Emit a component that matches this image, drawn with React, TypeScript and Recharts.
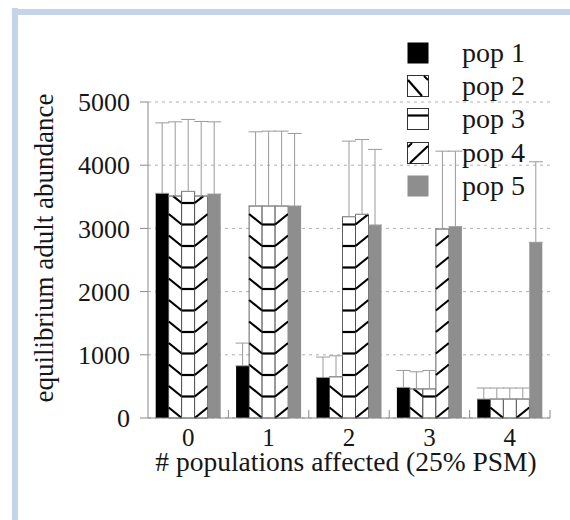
import React from "react";
import { BarChart, Bar, XAxis, YAxis, CartesianGrid, ErrorBar, Legend, Label } from "recharts";

const categories = ["0", "1", "2", "3", "4"];
const seriesNames = ["pop 1", "pop 2", "pop 3", "pop 4", "pop 5"];

const pop1 = [3555, 826, 642, 484, 300];
const pop2 = [3512, 3354, 652, 460, 300];
const pop3 = [3586, 3354, 3185, 460, 300];
const pop4 = [3512, 3354, 3223, 2990, 300];
const pop5 = [3543, 3354, 3054, 3027, 2780];

// upper error (sd) only
const pop1Err = [1115, 359, 322, 268, 174];
const pop2Err = [1174, 1174, 332, 271, 174];
const pop3Err = [1138, 1185, 1196, 292, 174];
const pop4Err = [1180, 1185, 1184, 1232, 174];
const pop5Err = [1143, 1148, 1196, 1195, 1274];

const yTicks = [0, 1000, 2000, 3000, 4000, 5000];

const data = categories.map((c, i) => ({
  cat: c,
  p1: pop1[i],
  p2: pop2[i],
  p3: pop3[i],
  p4: pop4[i],
  p5: pop5[i],
  e1: [0, pop1Err[i]],
  e2: [0, pop2Err[i]],
  e3: [0, pop3Err[i]],
  e4: [0, pop4Err[i]],
  e5: [0, pop5Err[i]],
}));

const FONT = "Liberation Serif, Tinos, Times New Roman, DejaVu Serif, serif";
const TEXT = "#161616";
const AXIS = "#8a8a8a";
const GRAY = "#8e8e8e";

const PLOT_LEFT = 148;
const PLOT_RIGHT = 550;
const HALF_BAND = (PLOT_RIGHT - PLOT_LEFT) / categories.length / 2;

const STEP = 21.5; // hatch spacing
const DROP = 10.5; // diagonal rise

type Kind = "back" | "horiz" | "fwd";

function hatched(kind: Kind) {
  return (props: any) => {
    const { x, y, width, height } = props;
    if (!height || height <= 0) return <g />;
    const top = y;
    const base = y + height;
    const lines: React.ReactNode[] = [];
    for (let k = 0; base - STEP * k > top - 0.1; k++) {
      const yk = base - STEP * k;
      if (kind === "horiz") {
        if (k === 0) continue;
        lines.push(<line key={k} x1={x} x2={x + width} y1={yk} y2={yk} />);
      } else if (kind === "back") {
        let x1 = x;
        let y1 = yk - DROP;
        if (y1 < top) {
          x1 = x + (width * (top - y1)) / DROP;
          y1 = top;
        }
        lines.push(<line key={k} x1={x1} y1={y1} x2={x + width} y2={yk} />);
      } else {
        let x2 = x + width;
        let y2 = yk - DROP;
        if (y2 < top) {
          x2 = x + (width * (yk - top)) / DROP;
          y2 = top;
        }
        lines.push(<line key={k} x1={x} y1={yk} x2={x2} y2={y2} />);
      }
    }
    return (
      <g>
        <rect x={x} y={y} width={width} height={height} fill="#fff" stroke="#3a3a3a" strokeWidth={0.8} />
        <g stroke="#000" strokeWidth={2.2}>{lines}</g>
      </g>
    );
  };
}

function Swatch({ id }: { id: string }) {
  const box = { fill: "#fff", stroke: "#333", strokeWidth: 1 };
  return (
    <svg width={22} height={22} style={{ display: "block" }}>
      {id === "p1" && <rect x={0.5} y={0.5} width={21} height={21} fill="#000" />}
      {id === "p5" && <rect x={0.5} y={0.5} width={21} height={21} fill={GRAY} />}
      {id === "p2" && (
        <g>
          <rect x={0.5} y={0.5} width={21} height={21} {...box} />
          <line x1={1} y1={5} x2={15} y2={21} stroke="#000" strokeWidth={2.2} />
          <line x1={17} y1={1} x2={21} y2={5} stroke="#000" strokeWidth={2} />
        </g>
      )}
      {id === "p3" && (
        <g>
          <rect x={0.5} y={0.5} width={21} height={21} {...box} />
          <line x1={1} y1={7.5} x2={21} y2={7.5} stroke="#000" strokeWidth={2.2} />
        </g>
      )}
      {id === "p4" && (
        <g>
          <rect x={0.5} y={0.5} width={21} height={21} {...box} />
          <line x1={3} y1={21} x2={21} y2={4} stroke="#000" strokeWidth={2.2} />
          <line x1={1} y1={5} x2={5} y2={1} stroke="#000" strokeWidth={2} />
        </g>
      )}
    </svg>
  );
}

function LegendBox(props: any) {
  const payload = props.payload || [];
  return (
    <div style={{ fontFamily: FONT }}>
      {payload.map((item: any) => (
        <div key={item.dataKey} style={{ display: "flex", alignItems: "center", height: 33.4 }}>
          <Swatch id={item.dataKey} />
          <span style={{ marginLeft: 33, fontSize: 28, color: TEXT, lineHeight: "28px" }}>{item.value}</span>
        </div>
      ))}
    </div>
  );
}

function XTick(props: any) {
  const { x, y, payload } = props;
  const axisY = y - 10;
  return (
    <g>
      <text x={x} y={y} dy="0.71em" textAnchor="middle" fontSize={25} fontFamily={FONT} fill={TEXT}>
        {payload.value}
      </text>
      <line x1={x + HALF_BAND} x2={x + HALF_BAND} y1={axisY} y2={axisY - 8} stroke={AXIS} />
    </g>
  );
}

function YTitle(props: any) {
  const vb = props.viewBox || {};
  const x = vb.x - 35;
  const y = vb.y + vb.height / 2 - 12;
  return (
    <text x={x} y={y} transform={`rotate(-90, ${x}, ${y})`} textAnchor="middle" fontSize={27} fontFamily={FONT} fill={TEXT}>
      equilibrium adult abundance
    </text>
  );
}

function XTitle(props: any) {
  const vb = props.viewBox || {};
  return (
    <text x={vb.x + vb.width / 2 - 3} y={vb.y + 53} textAnchor="middle" fontSize={27.5} fontFamily={FONT} fill={TEXT}>
      # populations affected (25% PSM)
    </text>
  );
}

export default function App() {
  const err = { direction: "y" as const, width: 7, stroke: "#9a9a9a", strokeWidth: 1, isAnimationActive: false };
  return (
    <div style={{ position: "absolute", left: 0, top: 0, width: 570, height: 520, background: "#fff" }}>
      <div style={{ position: "absolute", left: 12, top: 8, width: 6, height: 512, background: "#c5d3ec" }} />
      <div style={{ position: "absolute", left: 12, top: 9, width: 558, height: 6, background: "#c5d3ec" }} />
      <BarChart
        width={570}
        height={520}
        data={data}
        margin={{ top: 102, right: 570 - PLOT_RIGHT, bottom: 42, left: PLOT_LEFT - 60 }}
        barCategoryGap={7.7}
        barGap={0}
      >
        <CartesianGrid vertical={false} stroke="#b0b0b0" strokeDasharray="3 4" />
        <XAxis
          dataKey="cat"
          height={60}
          axisLine={{ stroke: AXIS }}
          tickLine={false}
          tickSize={0}
          tickMargin={10}
          tick={<XTick />}
          interval={0}
        >
          <Label content={<XTitle />} />
        </XAxis>
        <YAxis
          width={60}
          domain={[0, 5000]}
          ticks={yTicks}
          axisLine={{ stroke: AXIS }}
          tickLine={{ stroke: AXIS }}
          tickSize={8}
          tickMargin={10}
          tick={{ fontSize: 26, fontFamily: FONT, fill: TEXT }}
        >
          <Label content={<YTitle />} />
        </YAxis>
        <Legend
          layout="vertical"
          align="center"
          verticalAlign="middle"
          content={<LegendBox />}
          wrapperStyle={{ left: 407, top: 36, width: 160, right: "auto", bottom: "auto" }}
        />
        <Bar dataKey="p1" name={seriesNames[0]} fill="#000" isAnimationActive={false}>
          <ErrorBar dataKey="e1" {...err} />
        </Bar>
        <Bar dataKey="p2" name={seriesNames[1]} fill="#fff" shape={hatched("back")} isAnimationActive={false}>
          <ErrorBar dataKey="e2" {...err} />
        </Bar>
        <Bar dataKey="p3" name={seriesNames[2]} fill="#fff" shape={hatched("horiz")} isAnimationActive={false}>
          <ErrorBar dataKey="e3" {...err} />
        </Bar>
        <Bar dataKey="p4" name={seriesNames[3]} fill="#fff" shape={hatched("fwd")} isAnimationActive={false}>
          <ErrorBar dataKey="e4" {...err} />
        </Bar>
        <Bar dataKey="p5" name={seriesNames[4]} fill={GRAY} isAnimationActive={false}>
          <ErrorBar dataKey="e5" {...err} />
        </Bar>
      </BarChart>
    </div>
  );
}
